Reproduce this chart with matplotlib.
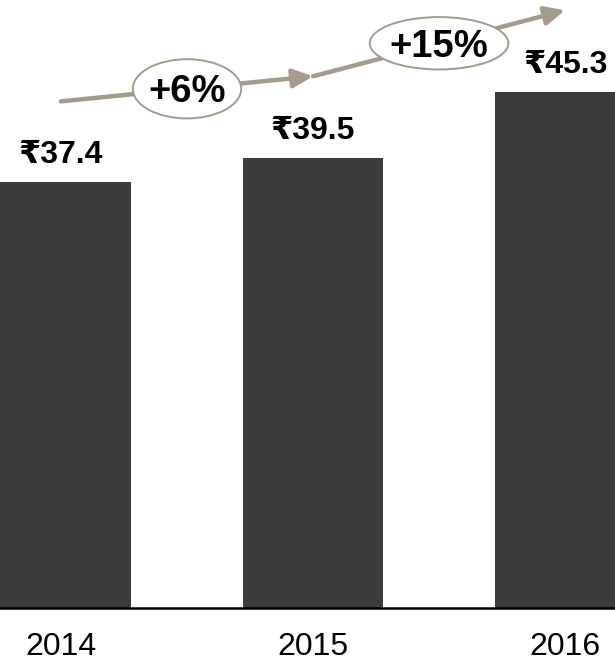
import matplotlib.pyplot as plt
import numpy as np
from matplotlib.patches import Ellipse, FancyArrowPatch

##---------------------------input data-------------------------------##
years = ['2014', '2015', '2016']
values = [37.4, 39.5, 45.3]
value_labels = ['₹37.4', '₹39.5', '₹45.3']
growth_labels = ['+6%', '+15%']

bar_color = '#3c3c3b'
arrow_color = '#a69b8b'
fonts = ['Liberation Sans', 'DejaVu Sans']

##----------------------------figure--------------------------------##
fig = plt.figure(figsize=(6.15, 6.61), dpi=100)
ax = fig.add_axes([0, 0.0802, 1, 0.9198])

x = np.arange(len(years))
ax.bar(x, values, width=0.556, color=bar_color, zorder=2)

for i, lab in enumerate(value_labels):
    ax.text(x[i], values[i] + 2.4, lab, ha='center', va='center',
            fontsize=23, fontweight='bold', family=fonts)

# growth arrows between bars, with the percentage in an ellipse
arrow_y = [(44.5, 46.7), (46.7, 52.5)]
ell_size = [(0.43, 5.2), (0.55, 4.6)]
for i, lab in enumerate(growth_labels):
    y0, y1 = arrow_y[i]
    arr = FancyArrowPatch((x[i], y0), (x[i + 1], y1),
                          arrowstyle='-|>,head_length=0.6,head_width=0.28',
                          mutation_scale=20, lw=3.2, color=arrow_color,
                          shrinkA=0, shrinkB=0, zorder=3)
    ax.add_patch(arr)
    cx = (x[i] + x[i + 1]) / 2
    cy = (y0 + y1) / 2
    w, h = ell_size[i]
    ax.add_patch(Ellipse((cx, cy), w, h, facecolor='white',
                         edgecolor=arrow_color, lw=1.4, zorder=4))
    ax.text(cx, cy - 0.3, lab, ha='center', va='center', fontsize=27.5,
            fontweight='bold', family=fonts, zorder=5)

ax.set_xlim(-0.242, 2.198)
ax.set_ylim(0, 53.4)
ax.set_xticks(x)
ax.set_xticklabels(years, fontsize=23, family=fonts)
ax.tick_params(axis='x', length=0, pad=17)
ax.set_yticks([])
for s in ['top', 'left', 'right']:
    ax.spines[s].set_visible(False)
ax.spines['bottom'].set_linewidth(1.8)
ax.spines['bottom'].set_color('black')

fig.savefig('out.png', dpi=100)
